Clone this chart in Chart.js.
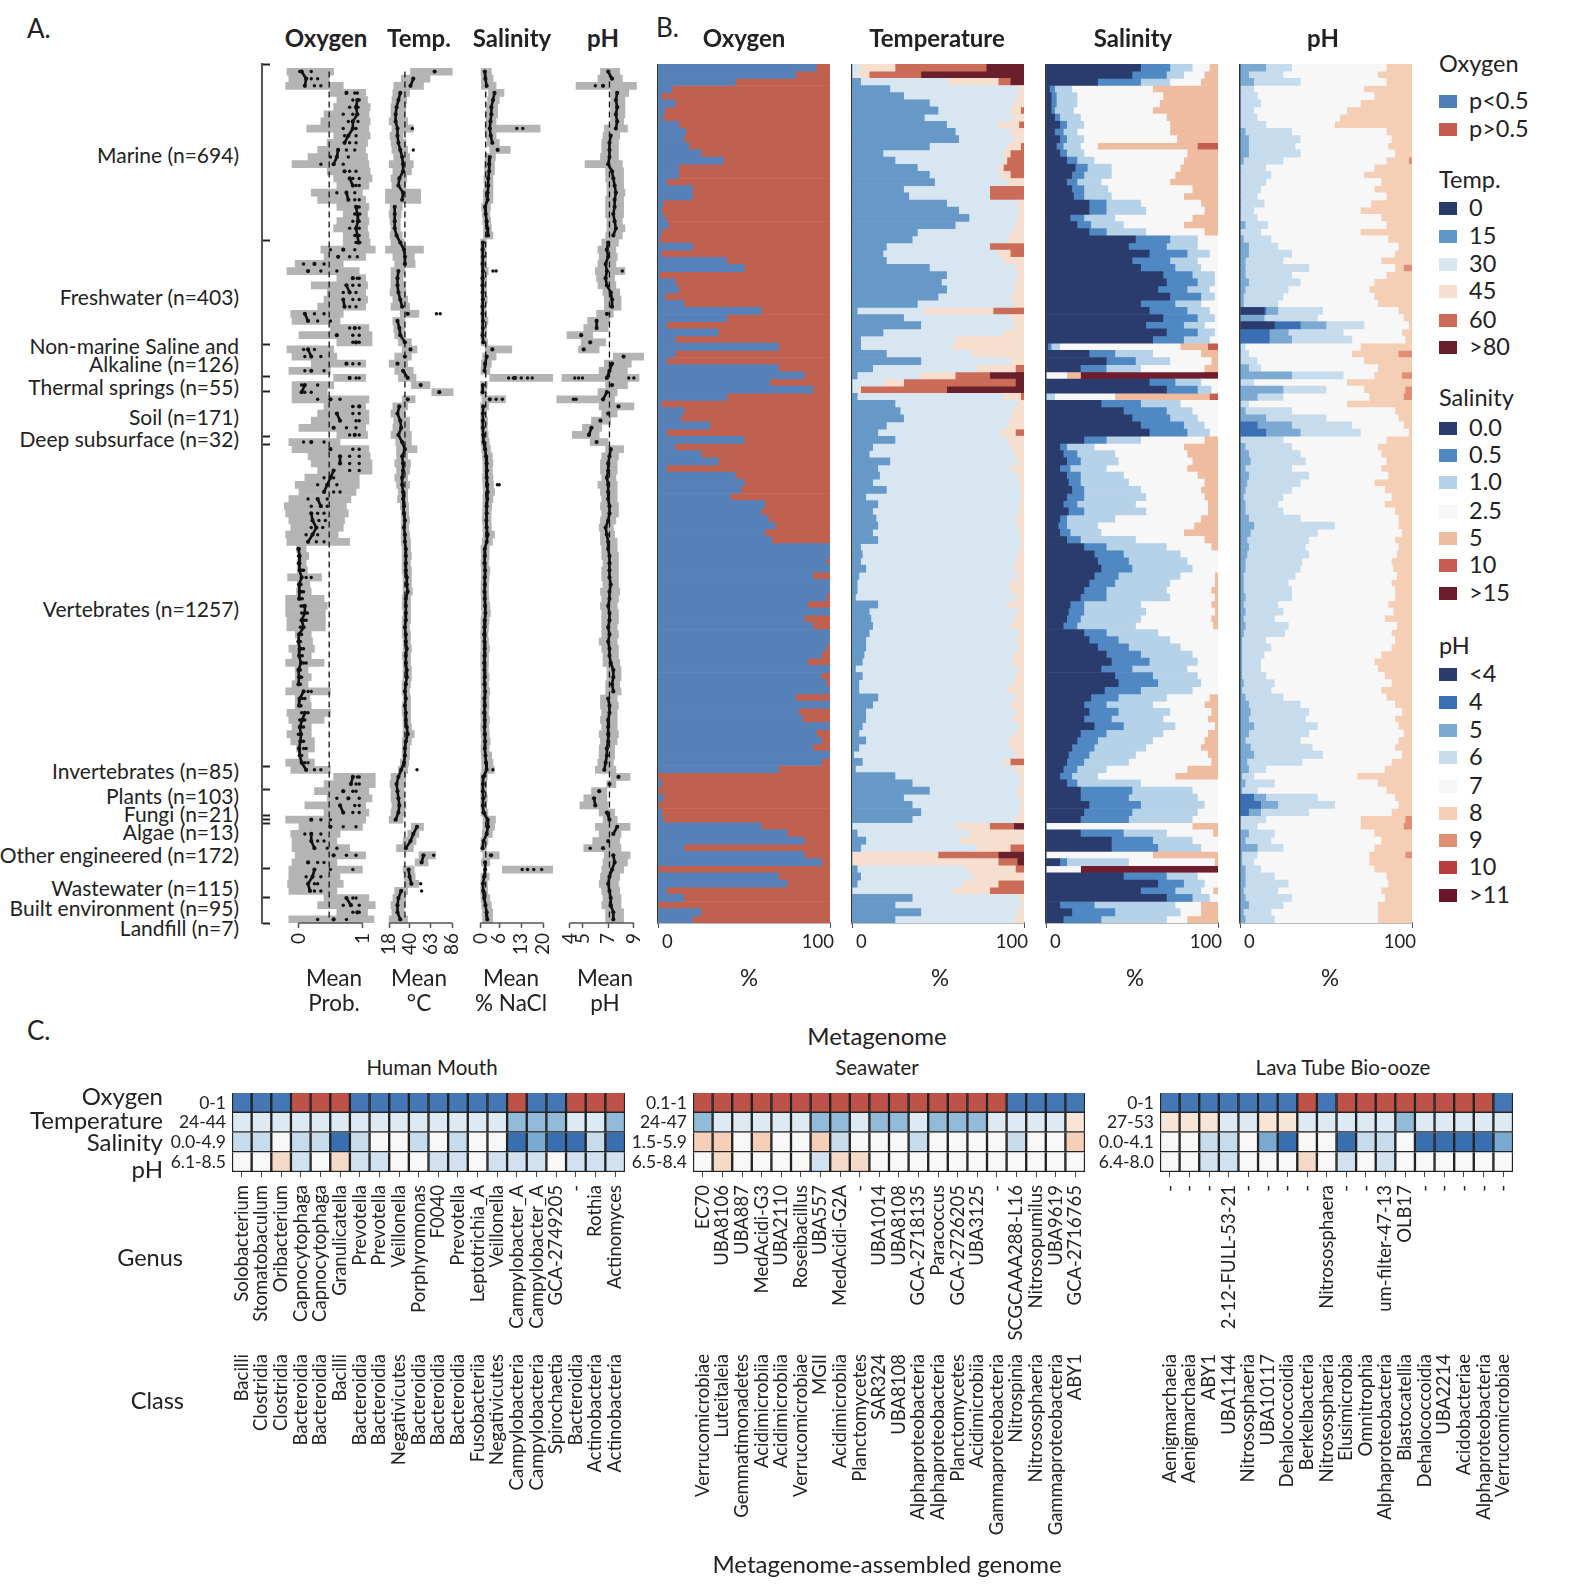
<!DOCTYPE html>
<html>
<head>
<meta charset="utf-8">
<script src="https://cdn.jsdelivr.net/npm/chart.js@4"></script>
<style>
body { margin: 0; background: #fff; font-family: Lato, sans-serif; color: #222; }
#page { position: relative; width: 1574px; height: 1584px; overflow: hidden; }
canvas { position: absolute; }
.t { position: absolute; white-space: nowrap; line-height: 1; }
.sw { position: absolute; width: 18px; height: 13px; }
</style>
</head>
<body>
<div id="page"></div>
<script>
// row values, 120 rows top to bottom, 10 per line
var oxyBlue = [
92,80,45,8,2,10,4,3,12,16,
15,18,25,38,12,12,5,20,20,3,
2,4,6,2,1,20,2,40,50,1,
10,12,4,15,60,40,5,35,10,70,
10,5,70,85,65,90,40,2,15,13,
30,5,50,10,25,35,5,45,50,48,
42,62,60,64,68,62,66,100,100,98,
100,90,100,100,98,87,100,85,90,100,
100,98,95,87,100,95,98,100,80,100,
82,84,100,92,95,90,100,95,70,0,
2,0,3,0,2,3,60,75,85,15,
85,95,0,70,75,5,15,0,25,20];

var temp15 = [
0,0,5,22,30,45,50,42,55,60,
62,45,18,25,38,45,48,30,33,55,
62,68,60,38,35,20,18,20,45,55,
52,55,50,38,3,30,40,18,5,5,
20,40,12,3,0,0,3,25,28,30,
20,15,25,12,10,22,15,16,12,20,
8,15,12,14,15,12,15,5,6,5,
8,4,3,3,2,15,10,11,12,10,
8,8,7,6,2,6,4,4,15,12,
8,8,6,4,8,4,1,6,2,25,
35,45,30,35,40,35,0,3,8,5,
0,0,3,5,3,0,35,25,40,25];
var temp30 = [
5,3,55,97,96,94,92,93,85,92,
94,90,88,88,85,86,90,80,80,96,
97,96,95,92,90,80,85,88,95,96,
94,95,92,94,42,92,94,88,60,58,
70,92,72,40,18,4,88,96,93,92,
90,86,90,92,94,96,92,96,97,98,
98,97,97,95,96,97,98,98,96,95,
94,96,92,92,95,90,96,94,92,97,
95,97,94,93,96,95,93,90,95,92,
95,93,97,95,91,92,95,88,94,97,
98,96,97,98,97,95,60,68,62,72,
0,0,66,70,64,58,97,98,96,94];
var temp45 = [
25,10,85,100,100,100,98,100,97,100,
100,98,92,90,88,92,100,80,80,100,
100,100,100,100,100,80,92,100,100,100,
100,100,100,100,82,100,100,100,100,100,
100,100,95,60,30,5,98,100,100,100,
100,95,100,100,100,100,100,100,100,100,
100,100,100,100,100,100,100,100,100,100,
100,100,100,100,100,100,100,100,100,100,
100,100,100,100,100,100,100,100,100,100,
100,100,100,100,100,100,100,92,100,100,
100,100,100,100,100,100,80,100,100,92,
50,85,95,100,85,80,100,100,100,100];
var temp60 = [
78,40,92,100,100,100,100,100,100,100,
100,100,100,100,100,100,100,100,100,100,
100,100,100,100,100,100,100,100,100,100,
100,100,100,100,100,100,100,100,100,100,
100,100,100,80,95,55,100,100,100,100,
100,100,100,100,100,100,100,100,100,100,
100,100,100,100,100,100,100,100,100,100,
100,100,100,100,100,100,100,100,100,100,
100,100,100,100,100,100,100,100,100,100,
100,100,100,100,100,100,100,100,100,100,
100,100,100,100,100,100,94,100,100,100,
85,96,100,100,100,100,100,100,100,100];

var sal00 = [
55,50,30,2,3,3,3,5,8,5,
8,6,8,12,17,15,12,15,16,25,
25,14,18,25,52,48,60,50,55,68,
70,65,72,55,60,68,58,70,62,1,
25,35,20,0,60,70,0,32,45,50,
55,60,22,8,10,12,8,12,13,15,
12,10,13,8,7,8,12,22,28,30,
32,28,25,22,20,14,13,12,10,22,
25,30,35,38,32,40,42,34,26,22,
25,22,28,20,18,15,13,12,10,8,
12,20,20,25,22,20,0,20,38,38,
0,8,0,45,65,55,70,8,15,10];
var sal05 = [
72,70,55,5,6,6,5,8,12,10,
12,10,12,18,24,22,18,22,22,35,
35,22,26,35,72,70,82,72,75,85,
88,82,90,75,82,88,80,88,80,3,
40,52,35,0,75,88,0,55,70,72,
80,82,35,12,18,20,14,20,20,22,
22,18,22,12,12,14,20,35,45,48,
50,42,40,35,35,22,22,20,18,35,
42,48,55,60,50,62,65,55,42,35,
42,38,45,35,30,28,25,22,18,15,
18,50,48,55,50,48,0,45,62,65,
0,12,0,70,80,75,85,28,40,32];
var sal10 = [
85,80,72,15,18,18,16,20,22,18,
22,20,22,28,38,38,32,36,38,55,
58,40,45,58,88,88,95,88,90,98,
98,95,98,90,95,98,92,98,95,8,
62,72,55,0,90,96,5,78,85,88,
92,95,55,28,40,42,35,45,48,55,
58,52,58,40,30,32,52,70,78,82,
85,78,72,70,72,55,58,55,52,65,
72,78,85,88,82,88,90,85,70,62,
72,68,75,68,62,58,52,48,35,30,
55,85,88,92,88,85,0,70,85,90,
0,48,0,88,92,90,95,75,78,70];
var sal25 = [
95,92,90,62,68,66,62,70,72,72,
76,30,82,80,78,75,72,85,80,90,
92,85,80,92,100,100,100,100,100,100,
100,100,100,100,100,100,100,100,100,78,
90,96,92,12,100,100,40,100,100,100,
100,100,92,80,82,85,82,88,92,90,
92,94,94,90,86,80,92,96,100,100,
100,98,98,96,98,96,98,96,97,100,
100,100,100,100,100,100,100,100,95,92,
96,94,98,94,92,90,94,96,82,75,
100,100,100,100,100,100,85,97,100,100,
62,98,20,100,100,97,100,90,90,82];
var sal5 = [
100,100,100,100,100,100,100,100,100,100,
100,88,100,100,100,100,100,100,100,100,
100,100,100,100,100,100,100,100,100,100,
100,100,100,100,100,100,100,100,100,94,
100,100,100,20,100,100,95,100,100,100,
100,100,100,100,100,100,100,100,100,100,
100,100,100,100,100,100,100,100,100,100,
100,100,100,100,100,100,100,100,100,100,
100,100,100,100,100,100,100,100,100,100,
100,100,100,100,100,100,100,100,100,100,
100,100,100,100,100,100,100,100,100,100,
100,100,20,100,100,100,100,100,100,100];
var sal10up = [
100,100,100,100,100,100,100,100,100,100,
100,100,100,100,100,100,100,100,100,100,
100,100,100,100,100,100,100,100,100,100,
100,100,100,100,100,100,100,100,100,100,
100,100,100,20,100,100,100,100,100,100,
100,100,100,100,100,100,100,100,100,100,
100,100,100,100,100,100,100,100,100,100,
100,100,100,100,100,100,100,100,100,100,
100,100,100,100,100,100,100,100,100,100,
100,100,100,100,100,100,100,100,100,100,
100,100,100,100,100,100,100,100,100,100,
100,100,20,100,100,100,100,100,100,100];

var ph3 = [
0,0,0,0,0,0,0,0,0,0,
0,0,0,0,0,0,0,0,0,0,
0,0,0,0,0,0,0,0,0,0,
0,0,0,0,14,0,20,0,0,0,
0,0,0,0,0,0,0,0,0,0,
0,0,0,0,0,0,0,0,0,0,
0,0,0,0,0,0,0,0,0,0,
0,0,0,0,0,0,0,0,0,0,
0,0,0,0,0,0,0,0,0,0,
0,0,0,0,0,0,0,0,0,0,
0,0,0,0,0,0,0,0,0,0,
0,0,0,0,0,0,0,0,0,0];
var ph4 = [
0,0,0,0,0,0,0,0,0,0,
0,0,0,0,0,0,0,0,0,0,
0,0,0,0,0,0,0,0,0,0,
0,0,0,0,15,0,35,17,17,0,
0,0,0,0,0,0,0,0,0,0,
10,15,0,0,0,0,0,0,0,0,
0,0,0,0,0,0,0,0,0,0,
0,0,0,0,0,0,0,0,0,0,
0,0,0,0,0,0,0,0,0,0,
0,0,0,0,0,0,0,0,0,0,
0,0,8,12,5,0,0,0,0,0,
0,0,0,0,0,0,0,0,0,0];
var ph5 = [
15,5,8,0,0,0,0,0,0,3,
5,5,5,2,0,0,0,0,0,0,
0,0,3,0,2,5,5,3,3,3,
5,3,2,2,22,14,50,28,30,0,
0,0,5,30,0,25,10,0,3,15,
30,35,0,3,5,6,3,5,4,3,
2,3,3,5,8,6,4,5,4,3,
3,2,2,2,3,2,3,2,3,2,
1,1,1,1,1,1,2,1,3,5,
6,5,8,5,3,6,8,4,5,1,
3,1,15,22,12,0,0,5,3,10,
1,1,3,3,3,2,3,5,2,3];
var ph6 = [
30,25,35,8,10,12,8,10,15,30,
35,32,35,25,15,18,15,12,10,14,
8,10,16,12,18,22,30,25,40,30,
35,28,25,22,48,45,72,60,65,3,
5,10,12,60,8,50,25,5,30,50,
65,70,25,30,35,38,30,40,35,30,
25,22,25,35,55,45,40,38,40,36,
35,32,28,30,30,22,25,20,28,26,
15,18,14,12,12,15,20,18,25,35,
40,38,45,40,35,42,48,36,15,8,
20,10,45,55,40,15,10,20,18,25,
10,8,12,20,28,22,30,25,18,20];
var ph7 = [
85,80,85,72,78,70,62,58,55,85,
88,86,90,85,78,72,82,78,85,76,
70,82,85,70,86,92,90,82,90,85,
78,75,78,80,92,95,98,94,96,70,
65,72,80,78,62,72,75,62,90,92,
95,98,85,80,82,85,82,86,78,84,
88,84,90,92,92,94,90,92,91,88,
89,91,88,90,90,86,89,84,91,88,
90,88,82,78,80,84,88,82,85,90,
94,90,92,95,92,90,94,88,84,68,
80,85,90,92,88,70,70,78,82,78,
75,75,78,85,86,82,84,80,80,80];
var ph8 = [
100,100,100,100,100,100,100,100,100,100,
100,100,100,98,100,100,100,100,100,100,
100,100,100,100,100,100,100,100,95,100,
100,100,100,100,100,100,100,100,100,100,
92,100,100,94,100,96,95,100,100,100,
100,100,100,100,100,100,100,100,100,100,
100,100,100,100,100,100,100,100,100,100,
100,100,100,100,100,100,100,100,100,100,
100,100,100,100,100,100,100,100,100,100,
100,100,100,100,100,100,100,100,100,100,
100,100,100,100,100,96,95,100,100,100,
96,100,100,100,100,100,100,100,100,100];

var oxyMean = [
.05,.12,.1,.75,.92,.9,.92,.85,.85,.78,
.72,.62,.6,.55,.72,.8,.85,.75,.78,.9,
.92,.93,.9,.92,.94,.7,.62,.25,.15,.85,
.75,.8,.7,.72,.1,.15,.88,.6,.9,.15,
.2,.75,.2,.8,.1,.05,.5,.95,.6,.65,
.55,.88,.2,.5,.65,.65,.55,.5,.45,.4,
.3,.35,.2,.22,.28,.22,.15,0,.02,.01,
.02,.05,.01,.02,.01,.1,.1,.05,.08,.01,
0,.02,.01,.04,0,.01,0,.08,.02,.01,
.1,.06,.02,.04,.03,.01,.02,.05,.12,.85,
.82,.7,.78,.65,.7,.2,.5,.2,.2,.25,
.55,.15,.25,.22,.15,.18,.75,.82,.92,.55];
var oxyOther = [
.2,.3,.35,.88,.85,.8,.7,.78,.9,.72,
.8,.75,.5,.7,.8,.85,.9,.6,.88,.92,
.88,.85,.8,.95,.9,.88,.8,.4,.6,.92,
.85,.9,.85,.8,.4,.5,.8,.85,.85,.25,
.35,.85,.4,.9,.3,.2,.65,.85,.85,.9,
.75,.95,.4,.85,.8,.8,.95,.55,.6,.65,
.45,.2,.3,.32,.2,.3,.28,.01,0,0,
.05,.12,.03,.05,.03,.07,.05,.09,.03,.03,
.02,.05,.03,.08,.02,.03,.03,.15,.06,.03,
.05,.02,.05,0,.05,.08,.03,.1,.25,.92,
.95,.9,.95,.88,.95,.5,.9,.35,.4,.6,
.9,.3,.85,.35,.25,.35,.9,.95,.95,.75];
var oxyThird = [
.02,.2,.25,.92,.95,.93,.85,.93,.7,.9,
.9,.88,.78,.35,.9,.95,.95,.88,.95,.95,
.96,.95,.95,.88,.96,.5,.92,.08,.35,.95,
.95,.7,.95,.9,.25,.3,.95,.95,.95,.08,
.1,.95,.1,.95,.05,.1,.3,.85,.95,.95,
.9,.8,.08,.95,.95,.95,.8,.4,.3,.55,
.15,.45,.4,.42,.38,.12,.4,0,.01,.02,
.08,.2,.04,.08,.06,.04,.14,.12,.06,.05,
.03,.08,.06,.12,.03,.05,.02,.2,.1,.04,
.15,.1,.08,.02,.08,.12,.05,.15,.35,.95,
.9,.85,.6,.95,.85,.35,.7,.1,.3,.45,
.75,.4,.5,.12,.3,.25,.85,.7,.85,.3];
var oxyLo = [
-.18,-.15,-.2,.5,.6,.55,.4,.35,.13,.55,
.45,.3,.15,-.1,.45,.55,.6,.2,.3,.6,
.7,.6,.55,.7,.7,.35,.4,-.05,-.18,.6,
.2,.45,.4,.3,-.12,-.1,.5,0,.6,-.18,
-.1,.2,-.15,.55,-.1,-.1,-.1,.4,.3,.2,
0,.6,-.15,-.1,.15,.2,.3,.1,-.05,0,
-.15,-.22,-.2,-.15,-.12,-.2,-.18,-.03,-.01,-.02,
-.02,-.17,-.02,-.03,-.2,-.2,-.2,-.18,-.18,-.05,
-.02,-.15,-.1,-.2,-.05,-.05,-.1,-.2,-.05,-.05,
-.18,-.15,-.1,-.18,-.12,-.03,0,-.2,-.12,.55,
.4,.25,.45,.1,.4,-.2,0,-.12,-.1,-.1,
-.05,-.1,-.15,-.15,-.17,-.15,.4,.3,.6,-.15];
var oxyHi = [
.55,.48,.7,1.05,1.08,1.12,1.1,1.12,1.1,1.12,
1.08,1.05,1.08,1.1,1.12,1.15,1.1,1,1.05,1.1,
1.08,1.1,1.08,1.1,1.12,1.2,1.05,.7,.95,1.05,
1.08,1.05,1.08,1.05,.7,.65,1.1,1.15,1.15,.55,
.6,1.05,.5,1.05,.55,.45,1.1,1.05,1.1,1.1,
1.05,1.08,.65,1.1,1.12,1.15,1.15,.95,.95,.9,
.82,.75,.78,.72,.7,.62,.8,.12,.16,.12,
.14,.36,.18,.2,.4,.45,.42,.42,.42,.2,
.22,.25,.2,.4,.15,.2,.15,.5,.18,.2,
.5,.4,.2,.2,.25,.25,.15,.25,.5,1.2,
1.2,1.1,1.15,1.05,1.1,1.05,1,.65,.6,.8,
1.05,.6,1,.65,.7,.6,1.1,1.2,1.08,1.18];

var tempMean = [
67,44,41,30,28,26,25,25,27,27,
28,30,32,33,33,29,28,33,32,24,
24,24,24,26,30,34,35,35,28,27,
27,28,30,32,38,27,29,30,35,41,
35,27,33,38,52,72,38,29,27,30,
31,28,32,35,32,33,33,32,32,33,
33,34,34,35,34,35,35,36,36,36,
36,37,37,38,36,36,36,36,35,36,
36,37,36,36,37,37,36,35,36,35,
36,36,37,38,36,35,35,34,31,28,
26,27,28,29,28,25,48,44,41,36,
55,53,39,40,42,31,28,27,27,30];
var tempLo = [
41,31,23,22,21,20,20,18,21,19,
20,21,23,18,22,20,21,14,14,19,
18,19,20,19,20,14,22,24,20,20,
20,19,22,20,30,22,23,24,28,32,
24,18,24,28,42,64,32,22,20,23,
22,20,25,26,26,24,26,24,26,28,
27,30,31,31,31,31,31,32,32,32,
32,33,33,33,32,32,33,32,32,32,
33,33,32,33,33,33,32,32,33,32,
32,33,33,33,32,32,32,30,28,20,
19,20,20,21,20,18,42,38,33,26,
50,46,33,34,35,24,22,20,21,18];
var tempHi = [
86,62,55,40,37,36,35,38,44,33,
36,38,40,44,42,37,36,52,52,32,
31,30,30,32,34,55,45,46,35,33,
35,36,38,40,50,35,35,35,42,48,
42,38,44,47,62,87,46,38,35,40,
40,42,42,48,38,41,40,38,40,38,
38,39,39,40,39,40,41,41,42,41,
42,42,42,43,41,41,41,41,40,41,
41,42,41,41,42,42,41,40,41,41,
41,41,42,45,42,40,40,39,38,36,
34,34,35,36,35,33,55,50,47,44,
68,60,45,46,50,38,36,35,34,38];
var tempOut = [[8,43],[11,44],[34,69],[34,73],[98,48],[110,66],[114,52],[115,53]];

var salMean = [
1.4,1.6,2,4.5,4,3.5,3.5,3.2,3,3.3,
3.8,5.5,3,2.8,2.8,2.5,2.5,2.3,2.3,1.5,
1.7,2,2.2,2.4,.8,.7,.8,.7,.8,.7,
.7,.7,.8,.7,.7,.8,.8,.7,.9,3.8,
2,1.5,1.3,11,.8,.7,3,.9,.8,.8,
.8,.9,1,1.5,1.8,2,2.1,2,2.2,2.3,
2.2,2,2,1.9,2,2.3,2,1.4,1.4,1.3,
1.5,1.4,1.4,1.3,1.4,1.5,1.6,1.4,1.3,1.2,
1.3,1.4,1.3,1.2,1.3,1.4,1.3,1.5,1.3,1.4,
1.2,1.4,1.3,1.4,1.5,1.4,1.6,1.8,2,.9,
.8,.8,.9,.8,1,2.3,2.4,2,1,.7,
3.4,1.5,1.5,1.2,.8,.9,1.2,1.6,2,2.2];
var salLo = [
.2,.3,.3,2.6,2.3,2,1.8,1.8,1.5,1.8,
2.2,3,1.5,1.3,1.3,1.1,1.2,.9,.9,.4,
.6,.8,1,1,.1,.1,.1,.1,.2,.1,
.1,.2,.2,.1,.1,.2,.2,.1,.2,1.5,
.7,.3,.2,3,.1,.1,.5,.1,.1,.1,
.1,.2,.2,.4,.6,.8,.8,.7,.8,.9,
.8,.8,.7,.6,.8,.9,.6,.2,.3,.2,
.3,.3,.2,.2,.3,.3,.4,.2,.2,.1,
.2,.2,.1,.1,.2,.2,.2,.3,.2,.2,
.1,.2,.1,.2,.3,.2,.3,.4,.4,.1,
.1,.1,.1,.1,.2,.8,.8,.6,.2,.1,
.8,.3,7,.2,.1,.1,.2,.4,.6,.7];
var salHi = [
3.5,4,5,7.5,6,5.5,5.5,5,19,5,
6,9.5,4.8,4.5,4.5,4,4,4,4,3.2,
3,3.3,3.5,4,1.8,1.8,2,1.8,2.5,2,
1.8,2,2.2,1.8,2,2.4,2,1.8,2.3,10,
5,3.5,3,23,2.2,2,8,2.6,2,2.3,
2.2,2.5,2.8,3.2,3.8,4,3.8,4,4.2,4.5,
4,3.6,3.4,3.4,3.5,4.5,3.8,2.8,2.8,2.6,
3,2.8,2.6,2.6,2.7,3,3.2,2.8,2.6,2.4,
2.6,2.9,2.6,2.6,2.5,2.8,2.6,3,2.7,2.8,
2.6,2.9,2.7,2.8,3.1,2.8,3.6,4,4.4,2.2,
2,2,2.2,2,2.4,4.8,4.5,3.8,2.4,1.9,
6,3,23,2.8,2.2,2.3,3,3.5,3.9,3.9];
var salOut = [[8,11.6],[8,13.5],[28,4],[28,5],[43,9],[43,10.5],[43,13],[43,15],[43,16.5],[46,5],[46,7],[58,5.4],[58,6],[98,4],[112,13.3],[112,15],[112,17],[112,19.5]];

var phMean = [
7,7.3,6.6,7.7,7.6,7.7,7.6,7.7,7.6,7.2,
7.1,7.1,7.1,7,7.3,7.4,7.5,7.6,7.5,7.5,
7.4,7.5,7.6,7.4,7,6.9,7,6.8,6.9,6.8,
6.9,7.2,7.3,7.3,6.9,6.1,6.1,4.9,5.6,5.1,
8.2,7.3,7.1,6.9,7.3,6.9,6.6,7.8,7,6.4,
5.7,5.5,6.1,7.2,7.1,7,7,6.9,7,7,
7,7.1,7.1,7,6.8,6.9,7,7,7.1,7.1,
7.1,7.1,7.2,7.1,7.1,7,7.1,7.1,7,7.1,
7,7.1,7.1,7.2,7.4,7.4,7.3,7.4,7,7.1,
7.1,7,7,7,7,6.9,6.9,6.8,6.7,7.8,
7.1,6.3,5.9,6,6.9,7.1,7.7,7.4,7,6.6,
7.4,7.5,7.3,7.1,7,7.1,7.2,7.2,7.4,7.4];
var phLo = [
6.4,6.2,4.5,7.2,7.2,7.2,7.2,7.2,6.7,6.6,
6.5,6.5,6.4,5.2,6.8,6.8,6.9,6.9,6.8,6.8,
6.8,6.9,6.9,6.8,6.5,6.2,6.3,6.2,6,6.1,
6.2,6.6,6.7,6.7,6.1,5.4,5.1,3.8,4.9,4.7,
7.4,6.7,6.3,3.4,6.8,6.2,3,6.3,6.5,5.7,
5,4.2,5.6,6.8,6.5,6.4,6.4,6.5,6.2,6.4,
6.5,6.4,6.5,6.4,6.3,6.4,6.4,6.5,6.5,6.6,
6.5,6.5,6.6,6.4,6.5,6.4,6.5,6.5,6.5,6.5,
6.3,6.5,6.6,6.6,6.9,6.9,6.8,6.8,6.4,6.4,
6.5,6.4,6.5,6.3,6.4,6.3,6.3,6.2,6,7.2,
6.9,5.7,5.1,4.8,6.3,6.6,6,6.3,5.8,5.1,
6.7,6.6,6.5,6.4,6.3,6.5,6.6,6.5,6.8,6.8];
var phHi = [
7.9,8.1,9.2,8.6,8.3,8.3,8.3,8.2,8.5,7.9,
7.8,7.8,7.8,8.1,8.2,8.2,8.2,8.3,8.2,8.2,
8.2,8.1,8.3,8.1,7.8,7.6,7.7,7.6,8.3,7.5,
7.6,7.9,8,8,7.4,7.1,7,5.8,6.8,6.3,
9.8,8.8,8.5,9.4,8.5,7.7,7.5,9,7.7,7.2,
6.5,6.3,7,8.2,7.8,7.7,7.7,7.6,7.7,7.7,
7.7,7.8,7.8,7.6,7.4,7.5,7.7,7.7,7.8,7.8,
7.8,7.8,7.8,7.9,7.8,7.7,7.8,7.8,7.7,7.8,
7.7,7.8,7.8,7.9,8,8,7.9,8,7.7,7.8,
7.7,7.7,7.7,7.8,7.7,7.5,7.5,7.4,7.6,8.7,
7.6,6.9,6.9,7,7.5,7.7,8.7,8,7.9,8,
8.7,8.5,8.2,7.9,7.8,7.9,8,8,8.2,8.2];
var phOut = [[2,6],[28,8.1],[43,4.4],[43,4.7],[43,5],[43,8.6],[43,9],[46,4.3],[46,4.5],[109,5.6]];

// fractional row where each group ends
var groupEdges = [0,24.7,39.2,43.7,45.8,52,53.1,98.2,101.3,105,105.6,106.1,112.4,116.5,120];

// heatmap cell codes, see cellColour
var mouthGenus = ['Solobacterium','Stomatobaculum','Oribacterium','Capnocytophaga','Capnocytophaga','Granulicatella','Prevotella','Prevotella','Veillonella','Porphyromonas','F0040','Prevotella','Leptotrichia_A','Veillonella','Campylobacter_A','Campylobacter_A','GCA-2749205','-','Rothia','Actinomyces'];
var mouthClass = ['Bacilli','Clostridia','Clostridia','Bacteroidia','Bacteroidia','Bacilli','Bacteroidia','Bacteroidia','Negativicutes','Bacteroidia','Bacteroidia','Bacteroidia','Fusobacteriia','Negativicutes','Campylobacteria','Campylobacteria','Spirochaetia','Bacteroidia','Actinobacteria','Actinobacteria'];
var mouthRanges = ['0-1','24-44','0.0-4.9','6.1-8.5'];
var mouthCells = ['bbbrrrbbbbbbbbrbbrrr','llllllllllllllmmmllm','sswssdswwswswwdeddsd','wwkcwkccwwccwcccwccc'];
var seaGenus = ['EC70','UBA8106','UBA887','MedAcidi-G3','UBA2110','Roseibacillus','UBA557','MedAcidi-G2A','-','UBA1014','UBA8108','GCA-2718135','Paracoccus','GCA-2726205','UBA3125','-','SCGCAAA288-L16','Nitrosopumilus','UBA9619','GCA-2716765'];
var seaClass = ['Verrucomicrobiae','Luteitaleia','Gemmatimonadetes','Acidimicrobiia','Acidimicrobiia','Verrucomicrobiae','MGII','Acidimicrobiia','Planctomycetes','SAR324','UBA8108','Alphaproteobacteria','Alphaproteobacteria','Planctomycetes','Acidimicrobiia','Gammaproteobacteria','Nitrospinia','Nitrososphaeria','Gammaproteobacteria','ABY1'];
var seaRanges = ['0.1-1','24-47','1.5-5.9','6.5-8.4'];
var seaCells = ['rrrrrrrrrrrrrrrrbbbb','mlllllmmlmmlmmmllllt','ppwpwwpswwwswwwwswwp','wkwwwwckkwwwwwwwwwww'];
var lavaGenus = ['-','-','-','2-12-FULL-53-21','-','-','-','-','Nitrososphaera','-','-','um-filter-47-13','OLB17','-','-','-','-','-'];
var lavaClass = ['Aenigmarchaeia','Aenigmarchaeia','ABY1','UBA1144','Nitrososphaeria','UBA10117','Dehalococcoidia','Berkelbacteria','Nitrososphaeria','Elusimicrobia','Omnitrophia','Alphaproteobacteria','Blastocatellia','Dehalococcoidia','UBA2214','Acidobacteriae','Alphaproteobacteria','Verrucomicrobiae'];
var lavaRanges = ['0-1','27-53','0.0-4.1','6.4-8.0'];
var lavaCells = ['bbbbbbbrbrrrrrrrrb','tttllttlllllmlllll','wwsswedwwdsswdddde','wwccwwwkwcwcwwwwww'];

var page = document.getElementById('page');
var rows = oxyBlue.map(function (v, i) { return 'r' + i; });
Chart.defaults.font.family = 'Lato, sans-serif';
Chart.defaults.color = '#222';
Chart.defaults.animation = false;

function addCanvas(x, y, w, h) {
    var c = document.createElement('canvas');
    c.width = w; c.height = h;
    c.style.left = x + 'px'; c.style.top = y + 'px';
    c.style.width = w + 'px'; c.style.height = h + 'px';
    page.appendChild(c);
    return c.getContext('2d');
}

function addText(str, x, y, size, align, bold) {
    var d = document.createElement('div');
    d.className = 't';
    d.textContent = str;
    d.style.left = x + 'px';
    d.style.top = y + 'px';
    d.style.fontSize = size + 'px';
    if (bold) d.style.fontWeight = 'bold';
    var tx = align === 'right' ? '-100%' : align === 'center' ? '-50%' : '0';
    d.style.transform = 'translate(' + tx + ',-50%)';
    page.appendChild(d);
}

function tickList(list) {
    return function (s) { s.ticks = list.map(function (v) { return { value: v }; }); };
}

// fixed axis size, and no room reserved for overhanging tick labels
function fitAxis(size) {
    return function (s) {
        if (s.isHorizontal()) s.height = size; else s.width = size;
        s.paddingLeft = s.paddingRight = s.paddingTop = s.paddingBottom = 0;
    };
}

// axis line only between the first and last tick
var partAxis = {
    id: 'partAxis',
    afterDraw: function (chart) {
        var s = chart.scales.x, c = chart.ctx, y = chart.chartArea.bottom;
        c.save();
        c.strokeStyle = '#555'; c.lineWidth = 1.5;
        c.beginPath();
        c.moveTo(s.getPixelForValue(s.ticks[0].value), y);
        c.lineTo(s.getPixelForValue(s.ticks[s.ticks.length - 1].value), y);
        c.stroke();
        c.restore();
    }
};

function meanPanel(left, width, min, max, ticks, thr, lo, hi, mean, others, extra) {
    var ds = [
        { type: 'line', data: [{ x: thr, y: rows[0] }, { x: thr, y: rows[119] }], borderColor: '#111', borderWidth: 1.3, borderDash: [6, 4], pointRadius: 0, order: 0 },
        {
            type: 'line', data: mean, borderColor: '#111', borderWidth: 2.6, pointRadius: 2.1, pointBackgroundColor: '#111', pointBorderWidth: 0, order: 1,
            segment: { borderColor: function (c) { return Math.abs(c.p0.x - c.p1.x) > 5 ? 'transparent' : '#111'; } }
        },
        { type: 'bar', data: lo.map(function (v, i) { return [v, hi[i]]; }), backgroundColor: '#b4b4b4', barPercentage: 1, categoryPercentage: 1, order: 3 }
    ];
    others.forEach(function (o) {
        ds.push({ type: 'line', data: o, showLine: false, pointRadius: 1.7, pointBackgroundColor: '#111', pointBorderWidth: 0, order: 1 });
    });
    if (extra) ds.push({ type: 'line', showLine: false, data: extra.map(function (p) { return { x: p[1], y: rows[p[0]] }; }), pointRadius: 1.7, pointBackgroundColor: '#111', pointBorderWidth: 0, order: 1 });
    new Chart(addCanvas(left, 64, width, 915), {
        type: 'bar',
        data: { labels: rows, datasets: ds },
        plugins: [partAxis],
        options: {
            indexAxis: 'y', responsive: false,
            plugins: { legend: { display: false }, tooltip: { enabled: false } },
            scales: {
                y: { display: false },
                x: {
                    type: 'linear', min: min, max: max,
                    afterBuildTicks: tickList(ticks),
                    afterFit: fitAxis(56),
                    border: { display: false },
                    grid: { drawOnChartArea: false, tickLength: 5, tickColor: '#555', tickWidth: 1.5 },
                    ticks: { autoSkip: false, minRotation: 90, maxRotation: 90, font: { size: 19 }, padding: 5 }
                }
            }
        }
    });
}

function bandPanel(left, edges, colours) {
    var ds = colours.map(function (col, k) {
        return {
            data: rows.map(function (r, i) {
                var a = k === 0 ? 0 : edges[k - 1][i];
                var b = k === edges.length ? 100 : edges[k][i];
                return [a, Math.max(a, b)];
            }),
            backgroundColor: col, barPercentage: 1, categoryPercentage: 1, grouped: false
        };
    });
    new Chart(addCanvas(left - 6, 64, 172 + 24, 900), {
        type: 'bar',
        data: { labels: rows, datasets: ds },
        options: {
            indexAxis: 'y', responsive: false,
            layout: { padding: { left: 6, right: 18 } },
            plugins: { legend: { display: false }, tooltip: { enabled: false } },
            scales: {
                y: {
                    grid: { display: false }, ticks: { display: false },
                    border: { color: '#333', width: 1.5 },
                    afterFit: fitAxis(0)
                },
                x: {
                    type: 'linear', min: 0, max: 100,
                    afterBuildTicks: tickList([0, 100]),
                    afterFit: fitAxis(41),
                    border: { color: '#777', width: 1.5 },
                    grid: { drawOnChartArea: false, tickLength: 5, tickColor: '#555' },
                    ticks: { autoSkip: false, maxRotation: 0, align: 'inner', labelOffset: 4, font: { size: 18.5 }, padding: 3 }
                }
            }
        }
    });
}

var cellColour = {
    b: '#4477b4', r: '#bd5249', l: '#deeaf3', m: '#92bbd9', t: '#f7e6d8',
    s: '#c6dcec', w: '#f8f8f8', p: '#f5cfb8', d: '#386fb0', e: '#79aad2',
    c: '#d1e1f0', k: '#f6dac8'
};

function heatPanel(left, right, genus, classes, ranges, cells) {
    var axisW = 70;
    var ds = cells.map(function (line) {
        return {
            data: genus.map(function () { return 1; }),
            backgroundColor: genus.map(function (g, i) { return cellColour[line[i]]; }),
            borderColor: '#222', borderWidth: 1.5, barPercentage: 1, categoryPercentage: 1
        };
    });
    new Chart(addCanvas(left - axisW, 1091, right - left + axisW + 6, 445), {
        type: 'bar',
        data: { labels: genus, datasets: ds },
        options: {
            responsive: false,
            layout: { padding: { top: 2, right: 6 } },
            plugins: { legend: { display: false }, tooltip: { enabled: false } },
            scales: {
                y: {
                    type: 'linear', stacked: true, reverse: true, min: 0, max: 4,
                    afterBuildTicks: tickList([.5, 1.5, 2.5, 3.5]),
                    afterFit: fitAxis(axisW),
                    grid: { display: false, drawTicks: false }, border: { display: false },
                    ticks: { autoSkip: false, font: { size: 17.5 }, padding: 6, callback: function (v) { return ranges[Math.floor(v)]; } }
                },
                x: {
                    stacked: true, offset: true, weight: 0,
                    afterFit: fitAxis(182),
                    grid: { drawOnChartArea: false, offset: false, tickLength: 5, tickColor: '#444' },
                    border: { display: false },
                    ticks: { autoSkip: false, minRotation: 90, maxRotation: 90, font: { size: 18.5 }, padding: 8 }
                },
                x2: {
                    type: 'category', labels: classes, position: 'bottom', offset: true, weight: 1,
                    afterFit: fitAxis(182),
                    grid: { display: false, drawTicks: false }, border: { display: false },
                    ticks: { autoSkip: false, minRotation: 90, maxRotation: 90, font: { size: 18.5 }, padding: 0 }
                }
            }
        }
    });
}

meanPanel(275, 110, -.304, 1.29, [0, 1], .48, oxyLo, oxyHi, oxyMean, [oxyOther, oxyThird], null);
meanPanel(376, 94, 8.15, 100.8, [18, 40, 63, 86], 35, tempLo, tempHi, tempMean, [], tempOut);
meanPanel(470, 90, -2.03, 24.06, [0, 6, 13, 20], 1.7, salLo, salHi, salMean, [], salOut);
meanPanel(550, 98, 2.786, 9.786, [4, 5, 7, 9], 7.1, phLo, phHi, phMean, [], phOut);

var oxyColours = ['#5580b8', '#c0604f'];
var tempColours = ['#6699c8', '#d8e6f2', '#f7dfd0', '#cb6c58', '#691f2c'];
var salColours = ['#2a3c6d', '#4f88c3', '#b5d2e8', '#f7f7f7', '#f0bca0', '#c75d50', '#6f1d2d'];
var phColours = ['#2a3c6d', '#3a6fb3', '#7ba9d1', '#c6dcec', '#f7f7f7', '#f5ceb6', '#df8f74'];

bandPanel(658, [oxyBlue], oxyColours);
bandPanel(852, [temp15, temp30, temp45, temp60], tempColours);
bandPanel(1046, [sal00, sal05, sal10, sal25, sal5, sal10up], salColours);
bandPanel(1240, [ph3, ph4, ph5, ph6, ph7, ph8], phColours);

heatPanel(232, 625, mouthGenus, mouthClass, mouthRanges, mouthCells);
heatPanel(693, 1085, seaGenus, seaClass, seaRanges, seaCells);
heatPanel(1160, 1513, lavaGenus, lavaClass, lavaRanges, lavaCells);

// group bracket next to the mean panels
new Chart(addCanvas(258, 60, 20, 870), {
    type: 'scatter',
    data: { datasets: [{ data: [] }] },
    options: {
        responsive: false,
        layout: { padding: { top: 4, bottom: 7 } },
        plugins: { legend: { display: false }, tooltip: { enabled: false } },
        scales: {
            x: { display: false },
            y: {
                type: 'linear', position: 'right', reverse: true, min: 0, max: 120,
                afterBuildTicks: tickList(groupEdges),
                afterFit: fitAxis(16),
                border: { color: '#555', width: 2 },
                grid: { drawOnChartArea: false, tickLength: 8, tickColor: '#222', tickWidth: 2 },
                ticks: { display: false, autoSkip: false }
            }
        }
    }
});

var groupNames = [['Marine (n=694)',154],['Freshwater (n=403)',296],['Non-marine Saline and',345],['Alkaline (n=126)',363],['Thermal springs (n=55)',386],['Soil (n=171)',416],['Deep subsurface (n=32)',438],['Vertebrates (n=1257)',608],['Invertebrates (n=85)',770],['Plants (n=103)',795],['Fungi (n=21)',813],['Algae (n=13)',831],['Other engineered (n=172)',854],['Wastewater (n=115)',887],['Built environment (n=95)',907],['Landfill (n=7)',927]];
groupNames.forEach(function (g) { addText(g[0], 239, g[1], 21, 'right'); });

addText('A.', 27, 28, 26);
addText('B.', 656, 27, 26);
addText('C.', 27, 1030, 26);
[['Oxygen',326],['Temp.',419],['Salinity',512],['pH',603],['Oxygen',744],['Temperature',937],['Salinity',1133],['pH',1323]].forEach(function (t) {
    addText(t[0], t[1], 38, 24, 'center', true);
});
[['Mean','Prob.',334],['Mean','°C',419],['Mean','% NaCl',511],['Mean','pH',605]].forEach(function (t) {
    addText(t[0], t[2], 978, 22.5, 'center');
    addText(t[1], t[2], 1003, 22.5, 'center');
});
[749, 940, 1135, 1330].forEach(function (x) { addText('%', x, 978, 22.5, 'center'); });
addText('Metagenome', 877, 1036, 24, 'center');
addText('Metagenome-assembled genome', 887, 1564, 24, 'center');
addText('Human Mouth', 432, 1067, 20.5, 'center');
addText('Seawater', 877, 1067, 20.5, 'center');
addText('Lava Tube Bio-ooze', 1343, 1067, 20.5, 'center');
[['Oxygen',1096],['Temperature',1120],['Salinity',1142],['pH',1169]].forEach(function (t) {
    addText(t[0], 163, t[1], 24, 'right');
});
addText('Genus', 183, 1258, 23.5, 'right');
addText('Class', 184, 1401, 23.5, 'right');

// legend
var legendGroups = [
    ['Oxygen', 64, [['p<0.5','#4f7fb9',101],['p>0.5','#c55a4e',129]]],
    ['Temp.', 180, [['0','#263a68',208],['15','#5f97c8',236],['30','#d8e6f2',264],['45','#f7dfd0',291],['60','#cb6c58',320],['>80','#691f2c',347]]],
    ['Salinity', 398, [['0.0','#2a3c6d',428],['0.5','#4f88c3',455],['1.0','#b5d2e8',482],['2.5','#f7f7f7',511],['5','#f0bca0',538],['10','#c75d50',565],['>15','#6f1d2d',593]]],
    ['pH', 646, [['<4','#2a3c6d',674],['4','#3a6fb3',702],['5','#7ba9d1',730],['6','#c6dcec',757],['7','#f7f7f7',786],['8','#f5ceb6',813],['9','#df8f74',840],['10','#b83d3e',867],['>11','#6a1528',895]]]
];
legendGroups.forEach(function (g) {
    addText(g[0], 1439, g[1], 23.5);
    g[2].forEach(function (e) {
        var s = document.createElement('div');
        s.className = 'sw';
        s.style.left = '1439px';
        s.style.top = (e[2] - 6) + 'px';
        s.style.background = e[1];
        page.appendChild(s);
        addText(e[0], 1469, e[2], 23.5);
    });
});
</script>
</body>
</html>
